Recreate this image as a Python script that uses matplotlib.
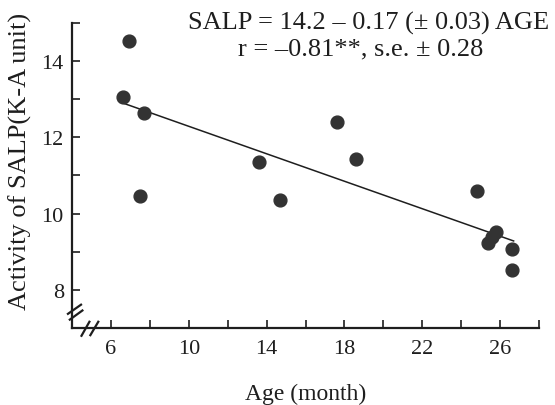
import matplotlib
matplotlib.use("Agg")
from matplotlib import pyplot as plt

# values
age = [6.9, 6.6, 7.7, 7.5, 13.6, 14.7, 17.6, 18.6, 24.8, 25.4, 25.6, 25.8, 26.6, 26.6]
salp = [14.53, 13.06, 12.64, 10.47, 11.34, 10.36, 12.40, 11.44, 10.60, 9.22, 9.38, 9.52, 9.07, 8.52]

fit_x = [6.6, 26.7]
fit_y = [12.9, 9.28]

xticks = [6, 8, 10, 12, 14, 16, 18, 20, 22, 24, 26, 28]
xlabels = ["6", "", "10", "", "14", "", "18", "", "22", "", "26", ""]
yticks = [8, 9, 10, 11, 12, 13, 14, 15]
ylabels = ["8", "", "10", "", "12", "", "14", ""]

ink = "#1e1e1e"
plt.rcParams["font.family"] = ["Liberation Serif", "DejaVu Serif"]

fig = plt.figure(figsize=(5.55, 4.06), dpi=100)
ax = fig.add_axes([0.130, 0.190, 0.841, 0.751])

ax.scatter(age, salp, s=85, color="#333333", zorder=3)
ax.plot(fit_x, fit_y, color=ink, lw=1.1)

ax.set_xlim(4, 28)
ax.set_ylim(7, 15)
ax.set_xticks(xticks)
ax.set_xticklabels(xlabels)
ax.set_yticks(yticks)
ax.set_yticklabels(ylabels)
ax.tick_params(direction="in", length=5.5, width=1.2, colors=ink,
               labelsize=16)
ax.tick_params(axis="x", pad=8)
ax.tick_params(axis="y", pad=6)
for side in ["top", "right"]:
    ax.spines[side].set_visible(False)
for side in ["left", "bottom"]:
    ax.spines[side].set_linewidth(1.6)
    ax.spines[side].set_color(ink)

# axis break marks
for (x0, y0), (x1, y1) in [((-0.009, 0.046), (0.019, 0.076)),
                           ((-0.005, 0.027), (0.022, 0.057)),
                           ((0.020, -0.026), (0.037, 0.020)),
                           ((0.039, -0.024), (0.056, 0.020))]:
    ax.plot([x0, x1], [y0, y1], transform=ax.transAxes, color=ink,
            lw=1.6, clip_on=False)

ax.set_xlabel("Age (month)", fontsize=17, color=ink, labelpad=18)
ax.set_ylabel("Activity of SALP(K-A unit)", fontsize=19, color=ink)
ax.yaxis.set_label_coords(-0.086, 0.548)

ax.text(0.634, 0.980, "SALP = 14.2 \u2013 0.17 (\u00b1 0.03) AGE",
        transform=ax.transAxes, ha="center", va="baseline", fontsize=19, color=ink)
ax.text(0.618, 0.898, "r = \u20130.81**, s.e. \u00b1 0.28",
        transform=ax.transAxes, ha="center", va="baseline", fontsize=19, color=ink)

fig.savefig("out.png", dpi=100)
